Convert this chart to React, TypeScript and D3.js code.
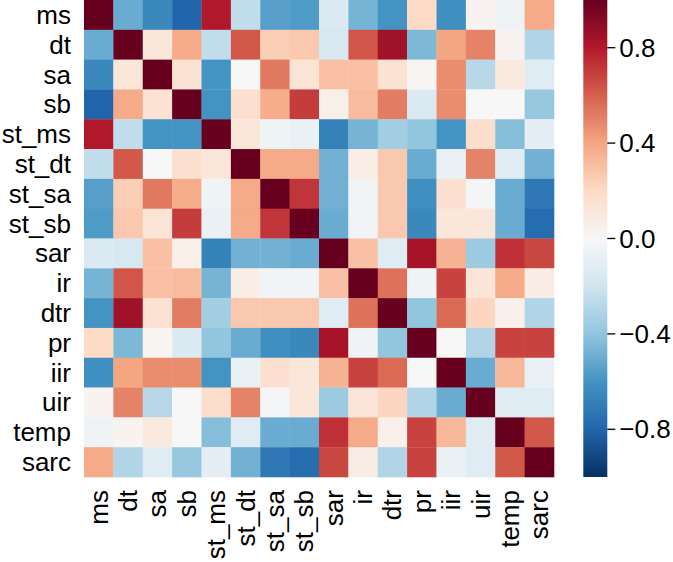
import React from "react";
import * as d3 from "d3";

const labels = ["ms","dt","sa","sb","st_ms","st_dt","st_sa","st_sb","sar","ir","dtr","pr","iir","uir","temp","sarc"];

const rowMs    = [1, -0.5, -0.65, -0.8, 0.8, -0.25, -0.55, -0.57, -0.15, -0.47, -0.6, 0.2, -0.62, 0.03, -0.05, 0.38];
const rowDt    = [-0.5, 1, 0.12, 0.38, -0.25, 0.62, 0.25, 0.27, -0.17, 0.63, 0.85, -0.45, 0.4, 0.5, 0.03, -0.3];
const rowSa    = [-0.65, 0.12, 1, 0.15, -0.6, 0.0, 0.53, 0.14, 0.3, 0.3, 0.15, 0.02, 0.47, -0.28, 0.1, -0.12];
const rowSb    = [-0.8, 0.38, 0.15, 1, -0.6, 0.17, 0.37, 0.7, 0.06, 0.32, 0.52, -0.15, 0.47, 0.0, 0.0, -0.38];
const rowStMs  = [0.8, -0.25, -0.6, -0.6, 1, 0.12, -0.05, -0.07, -0.68, -0.47, -0.35, -0.4, -0.6, 0.18, -0.43, -0.1];
const rowStDt  = [-0.25, 0.62, 0.0, 0.17, 0.12, 1, 0.38, 0.38, -0.48, 0.07, 0.27, -0.5, -0.08, 0.5, -0.12, -0.48];
const rowStSa  = [-0.55, 0.25, 0.53, 0.37, -0.05, 0.38, 1, 0.72, -0.48, -0.03, 0.27, -0.62, 0.17, -0.02, -0.5, -0.72];
const rowStSb  = [-0.57, 0.27, 0.14, 0.7, -0.07, 0.38, 0.72, 1, -0.5, -0.03, 0.27, -0.65, 0.12, 0.12, -0.5, -0.77];
const rowSar   = [-0.15, -0.17, 0.3, 0.06, -0.68, -0.48, -0.48, -0.5, 1, 0.3, -0.12, 0.83, 0.35, -0.37, 0.73, 0.67];
const rowIr    = [-0.47, 0.63, 0.3, 0.32, -0.47, 0.07, -0.03, -0.03, 0.3, 1, 0.55, -0.04, 0.68, 0.13, 0.38, 0.08];
const rowDtr   = [-0.6, 0.85, 0.15, 0.52, -0.35, 0.27, 0.27, 0.27, -0.12, 0.55, 1, -0.4, 0.57, 0.22, 0.05, -0.3];
const rowPr    = [0.2, -0.45, 0.02, -0.15, -0.4, -0.5, -0.62, -0.65, 0.83, -0.04, -0.4, 1, 0.0, -0.3, 0.68, 0.68];
const rowIir   = [-0.62, 0.4, 0.47, 0.47, -0.6, -0.08, 0.17, 0.12, 0.35, 0.68, 0.57, 0.0, 1, -0.5, 0.33, -0.07];
const rowUir   = [0.03, 0.5, -0.28, 0.0, 0.18, 0.5, -0.02, 0.12, -0.37, 0.13, 0.22, -0.3, -0.5, 1, -0.12, -0.12];
const rowTemp  = [-0.05, 0.03, 0.1, 0.0, -0.43, -0.12, -0.5, -0.5, 0.73, 0.38, 0.05, 0.68, 0.33, -0.12, 1, 0.62];
const rowSarc  = [0.38, -0.3, -0.12, -0.38, -0.1, -0.48, -0.72, -0.77, 0.67, 0.08, -0.3, 0.68, -0.07, -0.12, 0.62, 1];

const matrix = [rowMs, rowDt, rowSa, rowSb, rowStMs, rowStDt, rowStSa, rowStSb, rowSar, rowIr, rowDtr, rowPr, rowIir, rowUir, rowTemp, rowSarc];

const cbTicks = [0.8, 0.4, 0.0, -0.4, -0.8];
const cbTickLabels = ["0.8", "0.4", "0.0", "\u22120.4", "\u22120.8"];

const rdbu = ["#053061","#2166ac","#4393c3","#92c5de","#d1e5f0","#f7f7f7","#fddbc7","#f4a582","#d6604d","#b2182b","#67001f"];

export default function App() {
  const W = 673, H = 562;
  const hmLeft = 84, hmRight = 554, hmTop = 0, hmBottom = 477;
  const cbLeft = 583.3, cbRight = 607.3;
  const font = "'Liberation Sans', Arial, Helvetica, sans-serif";
  const fs = 26;

  const x = d3.scaleBand<string>().domain(labels).range([hmLeft, hmRight]).padding(0);
  const y = d3.scaleBand<string>().domain(labels).range([hmTop, hmBottom]).padding(0);
  const color = d3.scaleLinear<string>()
    .domain(d3.range(11).map(i => -1 + i * 0.2))
    .range(rdbu)
    .interpolate(d3.interpolateRgb)
    .clamp(true);
  const cbY = d3.scaleLinear().domain([-1, 1]).range([hmBottom, hmTop]);

  return (
    <svg width={W} height={H} style={{ position: "absolute", left: 0, top: 0, background: "#fff" }} fontFamily={font}>
      <defs>
        <linearGradient id="cbgrad" x1="0" y1="1" x2="0" y2="0">
          {rdbu.map((c, i) => (
            <stop key={i} offset={`${i * 10}%`} stopColor={c} />
          ))}
        </linearGradient>
      </defs>
      <rect x={0} y={0} width={W} height={H} fill="#fff" />
      {matrix.map((row, i) =>
        row.map((v, j) => (
          <rect
            key={`${i}-${j}`}
            x={x(labels[j])!}
            y={y(labels[i])!}
            width={x.bandwidth() + 0.3}
            height={y.bandwidth() + 0.3}
            fill={color(v)}
          />
        ))
      )}
      {labels.map(l => (
        <text key={"r" + l} x={hmLeft - 13} y={y(l)! + y.bandwidth() / 2} textAnchor="end" dominantBaseline="central" fontSize={fs} fill="#000">
          {l}
        </text>
      ))}
      {labels.map(l => {
        const cx = x(l)! + x.bandwidth() / 2;
        const ty = hmBottom + 13;
        return (
          <text key={"c" + l} transform={`translate(${cx},${ty}) rotate(-90)`} textAnchor="end" dominantBaseline="central" fontSize={fs} fill="#000">
            {l}
          </text>
        );
      })}
      <rect x={cbLeft} y={cbY(1)} width={cbRight - cbLeft} height={cbY(-1) - cbY(1)} fill="url(#cbgrad)" />
      {cbTicks.map((t, i) => (
        <g key={"t" + i}>
          <line x1={cbRight} x2={cbRight + 8} y1={cbY(t)} y2={cbY(t)} stroke="#000" strokeWidth={1.3} />
          <text x={cbRight + 12} y={cbY(t)} dominantBaseline="central" fontSize={fs} fill="#000">
            {cbTickLabels[i]}
          </text>
        </g>
      ))}
    </svg>
  );
}
